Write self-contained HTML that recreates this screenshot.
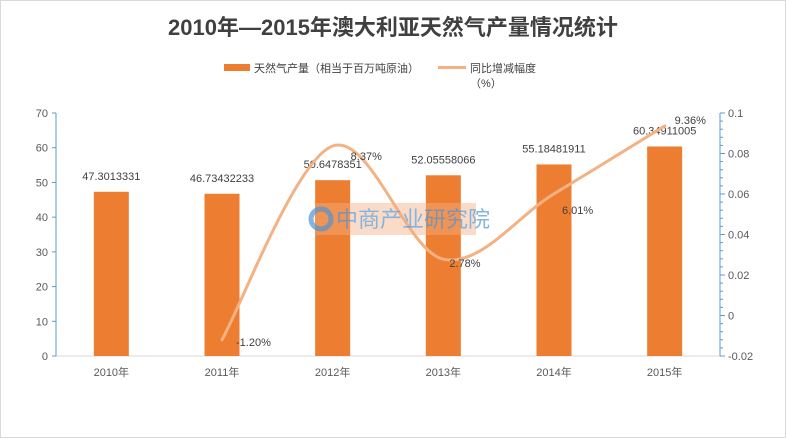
<!DOCTYPE html>
<html><head><meta charset="utf-8">
<style>
body{margin:0;background:#fff;}
#wrap{position:relative;width:786px;height:438px;overflow:hidden;font-family:"Liberation Sans","Noto Sans CJK SC",sans-serif;}
svg text{font-family:"Liberation Sans","Noto Sans CJK SC",sans-serif;}
</style></head>
<body>
<div id="wrap">
<svg id="chart" width="786" height="438">
<rect x="0.5" y="0.5" width="785" height="437" fill="#fff" stroke="#d9d9d9"/>
<text x="393" y="35" text-anchor="middle" font-size="22" font-weight="bold" fill="#404040">2010年—2015年澳大利亚天然气产量情况统计</text>
<g>
<rect x="224" y="64" width="26" height="7" fill="#ed7d31"/>
<text x="254" y="72" font-size="11" fill="#404040">天然气产量（相当于百万吨原油）</text>
<line x1="438" y1="67.5" x2="466" y2="67.5" stroke="#f4b183" stroke-width="3"/>
<text x="470" y="72" font-size="11" fill="#404040">同比增减幅度</text>
<text x="470" y="87" font-size="11" fill="#404040">（%）</text>
</g>
<g id="plot"></g>
<g opacity="0.75">
<rect x="316" y="203" width="160" height="32" fill="#f4b183" opacity="0.6"/>
<circle cx="321" cy="219" r="10" fill="none" stroke="#5b9bd5" stroke-width="5"/>
<text x="336" y="227" font-size="22" fill="#5b9bd5">中商产业研究院</text>
</g>
</svg>
</div>
<script>
const categories=["2010年","2011年","2012年","2013年","2014年","2015年"];
const production=[47.3013331,46.73432233,50.6478351,52.05558066,55.18481911,60.34911005];
const productionLabels=["47.3013331","46.73432233","50.6478351","52.05558066","55.18481911","60.34911005"];
const growth=[null,-0.012,0.0837,0.0278,0.0601,0.0936];
const growthLabels=["","-1.20%","8.37%","2.78%","6.01%","9.36%"];
const leftTicks=[0,10,20,30,40,50,60,70];
const rightTicks=[-0.02,0,0.02,0.04,0.06,0.08,0.1];

const NS="http://www.w3.org/2000/svg";
const g=document.getElementById('plot');
const X0=56,X1=720,Y0=356,Y1=113;
const band=(X1-X0)/categories.length;
const xc=i=>X0+band*(i+0.5);
const yL=v=>Y0-(v/70)*(Y0-Y1);
const yR=v=>Y0-((v+0.02)/0.12)*(Y0-Y1);
function el(t,a){const e=document.createElementNS(NS,t);for(const k in a)e.setAttribute(k,a[k]);g.appendChild(e);return e;}

let e;
e=el('line',{x1:X0,y1:Y0,x2:X1,y2:Y0,stroke:'#d9d9d9'});


e=el('line',{x1:X0,y1:Y1,x2:X0,y2:Y0,stroke:'#5b9bd5'});


e=el('line',{x1:X1,y1:Y1,x2:X1,y2:Y0,stroke:'#5b9bd5'});


leftTicks.forEach(v=>{
  const y=yL(v);
  el('line',{x1:X0-4,y1:y,x2:X0,y2:y,stroke:'#5b9bd5'});
  const t=el('text',{x:X0-8,y:y+4,'text-anchor':'end','font-size':11,fill:'#595959'});t.textContent=v;
  
  
});
for(let k=0;k<=30;k++){const y=Y1+k*(Y0-Y1)/30;el('line',{x1:X1,y1:y,x2:X1+(k%5==0?5:3),y2:y,stroke:'#5b9bd5'});}
rightTicks.forEach(v=>{
  const y=yR(v);
  const t=el('text',{x:X1+8,y:y+4,'font-size':11,fill:'#595959'});t.textContent=String(+v.toFixed(2));
  
  
});
categories.forEach((c,i)=>{
  const t=el('text',{x:xc(i),y:Y0+20,'text-anchor':'middle','font-size':11,fill:'#595959'});t.textContent=c;
  
  
});
const bw=35;
production.forEach((v,i)=>{
  const r=el('rect',{x:xc(i)-bw/2,y:yL(v),width:bw,height:Y0-yL(v),fill:'#ed7d31'});
  
  
  const t=el('text',{x:xc(i),y:yL(v)-12,'text-anchor':'middle','font-size':11,fill:'#404040'});t.textContent=productionLabels[i];
  
  
});
const pts=[];growth.forEach((v,i)=>{if(v!==null)pts.push([xc(i),yR(v)]);});
let d='M'+pts[0][0]+','+pts[0][1];
for(let i=0;i<pts.length-1;i++){
  const p0=pts[Math.max(0,i-1)],p1=pts[i],p2=pts[i+1],p3=pts[Math.min(pts.length-1,i+2)];
  const s=6;
  d+=' C'+(p1[0]+(p2[0]-p0[0])/s)+','+(p1[1]+(p2[1]-p0[1])/s)+' '+(p2[0]-(p3[0]-p1[0])/s)+','+(p2[1]-(p3[1]-p1[1])/s)+' '+p2[0]+','+p2[1];
}
e=el('path',{d:d,fill:'none',stroke:'#f4b183','stroke-width':3,'stroke-linecap':'round'});


const offs=[[0,0],[14,6],[18,14],[6,8],[8,20],[10,-2]];
growth.forEach((v,i)=>{
  if(v===null)return;
  const t=el('text',{x:xc(i)+offs[i][0],y:yR(v)+offs[i][1],'font-size':11,fill:'#404040'});t.textContent=growthLabels[i];
  
  
});
</script>
</body></html>
